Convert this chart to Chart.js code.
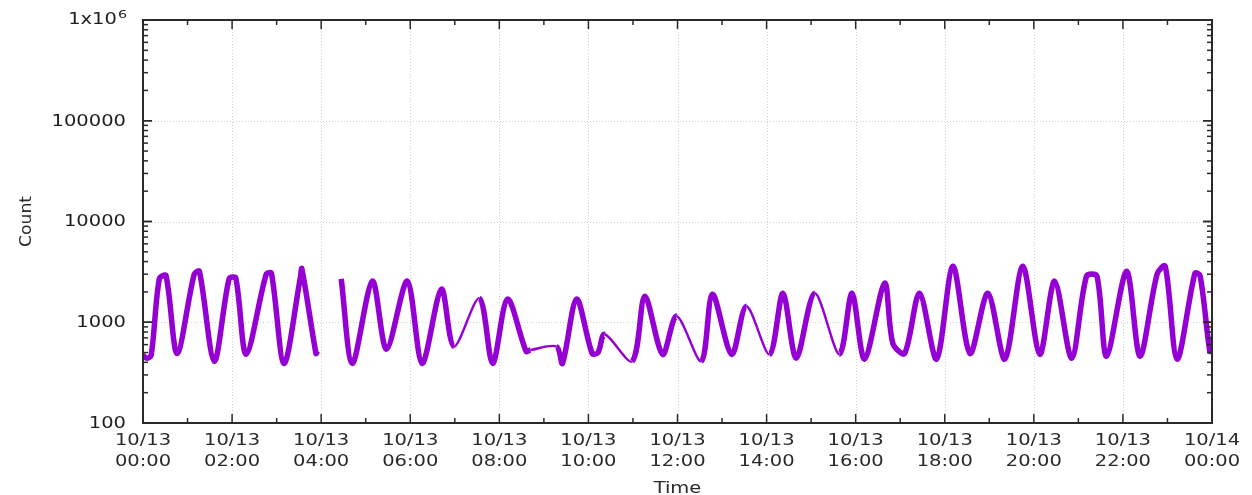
<!DOCTYPE html>
<html>
<head>
<meta charset="utf-8">
<script src="https://cdn.jsdelivr.net/npm/chart.js@4/dist/chart.umd.min.js"></script>
<style>
  html, body { margin: 0; padding: 0; background: #fff; }
  #wrap { width: 1252px; height: 495px; }
</style>
</head>
<body>
<div id="wrap"><canvas id="countChart"></canvas></div>
<script>
// sample times on 10/13 (HH:MM, 24:00 = 10/14 00:00) and counts
const times = [
  '00:00', '00:05', '00:11', '00:22', '00:31', '00:46', '01:09', '01:16', '01:36', '01:56',
  '02:05', '02:19', '02:46', '02:53', '03:10', '03:32', '03:34', '03:53', '03:55', '04:10',
  '04:27', '04:42', '05:09', '05:28', '05:56', '06:16', '06:42', '06:59', '07:33', '07:51',
  '08:11', '08:36', '08:42', '09:17', '09:25', '09:44', '10:05', '10:13', '10:22', '10:59',
  '11:16', '11:40', '11:59', '12:32', '12:47', '13:13', '13:33', '14:04', '14:22', '14:40',
  '15:05', '15:38', '15:55', '16:12', '16:39', '16:50', '17:06', '17:26', '17:49', '18:11',
  '18:34', '18:58', '19:21', '19:45', '20:08', '20:28', '20:51', '21:11', '21:25', '21:38',
  '22:05', '22:23', '22:46', '22:57', '23:13', '23:37', '23:44', '23:57', '24:00'
];
const counts = [
  470, 440, 470, 2700, 2900, 490, 3000, 3200, 410, 2700,
  2750, 480, 3000, 3070, 390, 2800, 3400, 490, 520, null,
  2700, 390, 2560, 540, 2560, 390, 2130, 575, 1730, 390,
  1700, 515, 530, 575, 390, 1700, 490, 500, 760, 410,
  1810, 480, 1150, 410, 1900, 480, 1440, 480, 1940, 440,
  1940, 480, 1940, 430, 2450, 620, 490, 1940, 430, 3600,
  490, 1940, 430, 3600, 480, 2560, 440, 2870, 2870, 460,
  3200, 460, 3000, 3600, 430, 3070, 2900, 515, 520
];

// axis ticks
const xTickMinutes = [0, 120, 240, 360, 480, 600, 720, 840, 960, 1080, 1200, 1320, 1440];
const xTickDates = ['10/13', '10/13', '10/13', '10/13', '10/13', '10/13', '10/13',
                    '10/13', '10/13', '10/13', '10/13', '10/13', '10/14'];
const xTickTimes = ['00:00', '02:00', '04:00', '06:00', '08:00', '10:00', '12:00',
                    '14:00', '16:00', '18:00', '20:00', '22:00', '00:00'];
const yTickValues = [100, 1000, 10000, 100000, 1000000];
const yTickLabels = ['100', '1000', '10000', '100000', '1x10'];

function toMinutes(s) {
  const [h, m] = s.split(':').map(Number);
  return h * 60 + m;
}

const points = times.map((t, i) => ({ x: toMinutes(t), y: counts[i] }));

const INK = '#1e1e1e';
const WIDE = 1.3; // horizontal text stretch seen in the reference

function stretchedText(ctx, text, x, y, align) {
  ctx.save();
  ctx.translate(x, y);
  ctx.scale(WIDE, 1);
  ctx.textAlign = align;
  ctx.fillText(text, 0, 0);
  ctx.restore();
}

const gnuplotFrame = {
  id: 'gnuplotFrame',
  beforeDatasetsDraw(chart) {
    const { ctx, chartArea: a, scales: { x, y } } = chart;
    ctx.save();
    ctx.strokeStyle = '#cfcfcf';
    ctx.lineWidth = 1;
    ctx.setLineDash([1, 2]);
    xTickMinutes.forEach(t => {
      const px = Math.round(x.getPixelForValue(t)) + 0.5;
      ctx.beginPath(); ctx.moveTo(px, a.top); ctx.lineTo(px, a.bottom); ctx.stroke();
    });
    yTickValues.forEach(v => {
      const py = Math.round(y.getPixelForValue(v)) + 0.5;
      ctx.beginPath(); ctx.moveTo(a.left, py); ctx.lineTo(a.right, py); ctx.stroke();
    });
    ctx.restore();
  },
  afterDraw(chart) {
    const { ctx, chartArea: a, scales: { x, y } } = chart;
    ctx.save();
    ctx.strokeStyle = '#2a2a2a';
    ctx.lineWidth = 2;
    ctx.strokeRect(a.left, a.top, a.right - a.left, a.bottom - a.top);

    // inward ticks, major and minor, on all four sides
    ctx.lineWidth = 1.5;
    const tick = (x1, y1, x2, y2) => { ctx.beginPath(); ctx.moveTo(x1, y1); ctx.lineTo(x2, y2); ctx.stroke(); };
    for (let m = 0; m <= 1440; m += 60) {
      const px = x.getPixelForValue(m);
      const len = m % 120 === 0 ? 9 : 5;
      tick(px, a.bottom, px, a.bottom - len);
      tick(px, a.top, px, a.top + len);
    }
    for (let d = 100; d < 1000000; d *= 10) {
      for (let k = 1; k <= 10; k++) {
        const py = y.getPixelForValue(d * k);
        const len = (k === 1 || k === 10) ? 9 : 5;
        tick(a.left, py, a.left + len, py);
        tick(a.right, py, a.right - len, py);
      }
    }

    ctx.fillStyle = INK;
    ctx.textBaseline = 'middle';

    // y tick labels
    ctx.font = '15px "DejaVu Sans"';
    yTickValues.forEach((v, i) => {
      const py = y.getPixelForValue(v);
      if (i === yTickValues.length - 1) {
        ctx.font = '11px "DejaVu Sans"';
        const w6 = ctx.measureText('6').width * WIDE;
        stretchedText(ctx, '6', a.left - 16, py - 5, 'right');
        ctx.font = '15px "DejaVu Sans"';
        stretchedText(ctx, yTickLabels[i], a.left - 17 - w6, py, 'right');
      } else {
        stretchedText(ctx, yTickLabels[i], a.left - 17, py + 1, 'right');
      }
    });

    // x tick labels, two lines each
    ctx.fillStyle = '#2a2a2a';
    ctx.font = '15px "DejaVu Sans"';
    xTickMinutes.forEach((m, i) => {
      const px = x.getPixelForValue(m);
      stretchedText(ctx, xTickDates[i], px, a.bottom + 18, 'center');
      stretchedText(ctx, xTickTimes[i], px, a.bottom + 39, 'center');
    });

    // axis titles
    stretchedText(ctx, 'Time', (a.left + a.right) / 2, a.bottom + 66, 'center');
    ctx.save();
    ctx.font = '15px "DejaVu Sans"';
    ctx.translate(27, (a.top + a.bottom) / 2);
    ctx.rotate(-Math.PI / 2);
    ctx.scale(1.15, 1);
    ctx.textAlign = 'center';
    ctx.fillText('Count', 0, 0);
    ctx.restore();

    ctx.restore();
  }
};

const ctx = document.getElementById('countChart').getContext('2d');
const countChart = new Chart(ctx, {
  type: 'line',
  data: {
    datasets: [{
      label: 'Count',
      data: points,
      borderColor: '#9400d3',
      backgroundColor: '#9400d3',
      borderWidth: 5.5,
      pointRadius: 0,
      tension: 0.3,
      spanGaps: false,
      segment: {
        // long stretches without samples show as a thin connecting line
        borderWidth: c => (c.p1.parsed.x - c.p0.parsed.x >= 30 ? 2.4 : 5.5)
      }
    }]
  },
  options: {
    responsive: true,
    maintainAspectRatio: false,
    animation: false,
    layout: { padding: { left: 143, right: 40, top: 20, bottom: 72 } },
    plugins: {
      legend: { display: false },
      tooltip: { enabled: false }
    },
    scales: {
      x: { type: 'linear', min: 0, max: 1440, display: false },
      y: { type: 'logarithmic', min: 100, max: 1000000, display: false }
    }
  },
  plugins: [gnuplotFrame]
});
</script>
</body>
</html>
